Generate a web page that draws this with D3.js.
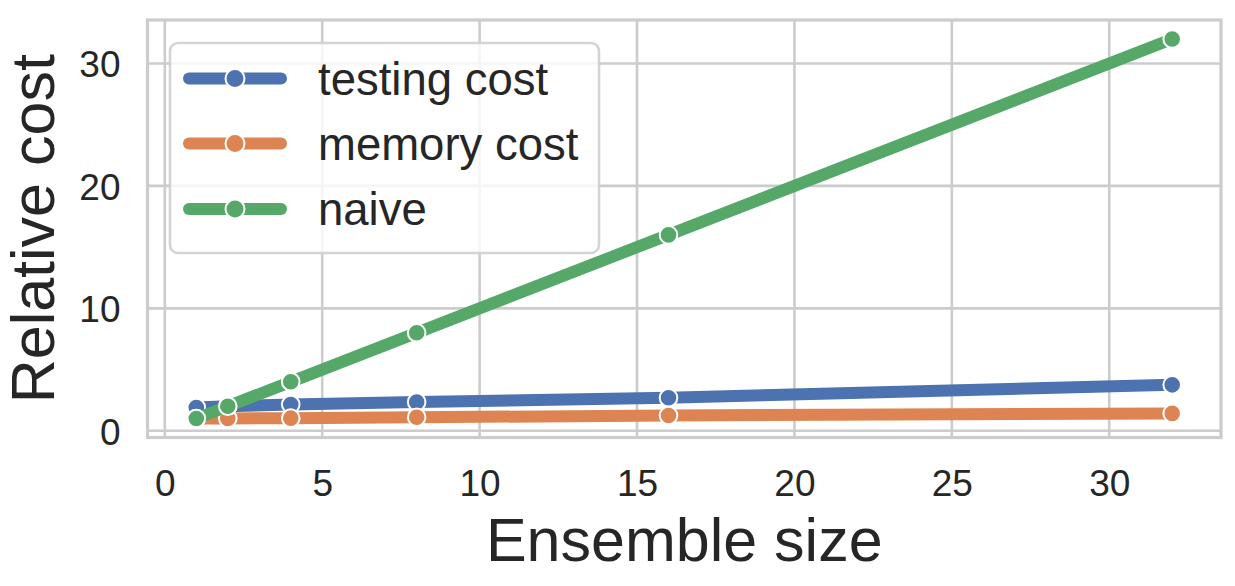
<!DOCTYPE html>
<html>
<head>
<meta charset="utf-8">
<script src="https://cdn.jsdelivr.net/npm/d3@7"></script>
<style>
  html, body { margin: 0; padding: 0; background: #ffffff; }
  svg { display: block; }
  text { font-family: "Liberation Sans", Arial, sans-serif; fill: #262626; }
</style>
</head>
<body>
<svg id="chart" width="1235" height="586"></svg>
<script>
// ---- data ----
const ensembleSizes = [1, 2, 4, 8, 16, 32];
const testingCost   = [1.9, 2.0, 2.15, 2.35, 2.7, 3.75];
const memoryCost    = [1.0, 1.0, 1.03, 1.1, 1.25, 1.42];
const naiveCost     = [1, 2, 4, 8, 16, 32];
const seriesNames   = ["testing cost", "memory cost", "naive"];
const seriesColors  = ["#4c72b0", "#dd8452", "#55a868"];
const xTicks = [0, 5, 10, 15, 20, 25, 30];
const yTicks = [0, 10, 20, 30];
const xLabel = "Ensemble size";
const yLabel = "Relative cost";

const seriesValues = [testingCost, memoryCost, naiveCost];

// ---- layout ----
const svg = d3.select("#chart");
const plot = { left: 147.5, right: 1221, top: 20, bottom: 437.5 };

const x = d3.scaleLinear().domain([-0.55, 33.55]).range([plot.left, plot.right]);
const y = d3.scaleLinear().domain([-0.55, 33.55]).range([plot.bottom, plot.top]);

const gridColor = "#cccccc";

// grid
const grid = svg.append("g");
grid.selectAll("line.xg").data(xTicks).enter().append("line")
  .attr("x1", d => x(d)).attr("x2", d => x(d))
  .attr("y1", plot.top).attr("y2", plot.bottom)
  .attr("stroke", gridColor).attr("stroke-width", 2.6);
grid.selectAll("line.yg").data(yTicks).enter().append("line")
  .attr("x1", plot.left).attr("x2", plot.right)
  .attr("y1", d => y(d)).attr("y2", d => y(d))
  .attr("stroke", gridColor).attr("stroke-width", 2.6);

// spines
svg.append("rect")
  .attr("x", plot.left).attr("y", plot.top)
  .attr("width", plot.right - plot.left).attr("height", plot.bottom - plot.top)
  .attr("fill", "none").attr("stroke", gridColor).attr("stroke-width", 3.2);

// axes (tick labels only)
const xAxis = d3.axisBottom(x).tickValues(xTicks).tickSize(0).tickPadding(0).tickFormat(d3.format("d"));
const gx = svg.append("g").attr("transform", `translate(0,${plot.bottom})`).call(xAxis);
gx.select(".domain").remove();
gx.selectAll("text")
  .attr("y", 58.5).attr("dy", null)
  .style("font-family", '"Liberation Sans", Arial, sans-serif')
  .style("font-size", "37px").attr("fill", "#262626");

const yAxis = d3.axisLeft(y).tickValues(yTicks).tickSize(0).tickPadding(0).tickFormat(d3.format("d"));
const gy = svg.append("g").attr("transform", `translate(${plot.left},0)`).call(yAxis);
gy.select(".domain").remove();
gy.selectAll("text")
  .attr("x", -27).attr("dy", "0.36em")
  .style("font-family", '"Liberation Sans", Arial, sans-serif')
  .style("font-size", "37px").attr("fill", "#262626");

// axis labels
svg.append("text")
  .attr("x", (plot.left + plot.right) / 2).attr("y", 561)
  .attr("text-anchor", "middle")
  .style("font-size", "61px")
  .text(xLabel);
svg.append("text")
  .attr("transform", `translate(54,${(plot.top + plot.bottom) / 2}) rotate(-90)`)
  .attr("text-anchor", "middle")
  .style("font-size", "61px")
  .text(yLabel);

// lines + markers
const line = d3.line().x(d => x(d[0])).y(d => y(d[1]));
seriesValues.forEach((vals, i) => {
  const pts = ensembleSizes.map((s, j) => [s, vals[j]]);
  const g = svg.append("g");
  g.append("path")
    .datum(pts)
    .attr("d", line)
    .attr("fill", "none")
    .attr("stroke", seriesColors[i])
    .attr("stroke-width", 12)
    .attr("stroke-linecap", "round")
    .attr("stroke-linejoin", "round");
  g.selectAll("circle").data(pts).enter().append("circle")
    .attr("cx", d => x(d[0])).attr("cy", d => y(d[1]))
    .attr("r", 8.8)
    .attr("fill", seriesColors[i])
    .attr("stroke", "#ffffff").attr("stroke-width", 2);
});

// legend
const legend = svg.append("g");
legend.append("rect")
  .attr("x", 170).attr("y", 43)
  .attr("width", 429).attr("height", 210)
  .attr("rx", 8).attr("ry", 8)
  .attr("fill", "#ffffff").attr("fill-opacity", 0.8)
  .attr("stroke", "#cccccc").attr("stroke-opacity", 0.85)
  .attr("stroke-width", 2.6);
const rowY = [78.5, 143.5, 209];
seriesNames.forEach((name, i) => {
  const ly = rowY[i];
  legend.append("line")
    .attr("x1", 189).attr("x2", 281)
    .attr("y1", ly).attr("y2", ly)
    .attr("stroke", seriesColors[i]).attr("stroke-width", 12)
    .attr("stroke-linecap", "round");
  legend.append("circle")
    .attr("cx", 235).attr("cy", ly).attr("r", 9.5)
    .attr("fill", seriesColors[i])
    .attr("stroke", "#ffffff").attr("stroke-width", 2);
  legend.append("text")
    .attr("x", 318).attr("y", ly).attr("dy", "0.36em")
    .style("font-size", "45.5px")
    .text(name);
});
</script>
</body>
</html>
